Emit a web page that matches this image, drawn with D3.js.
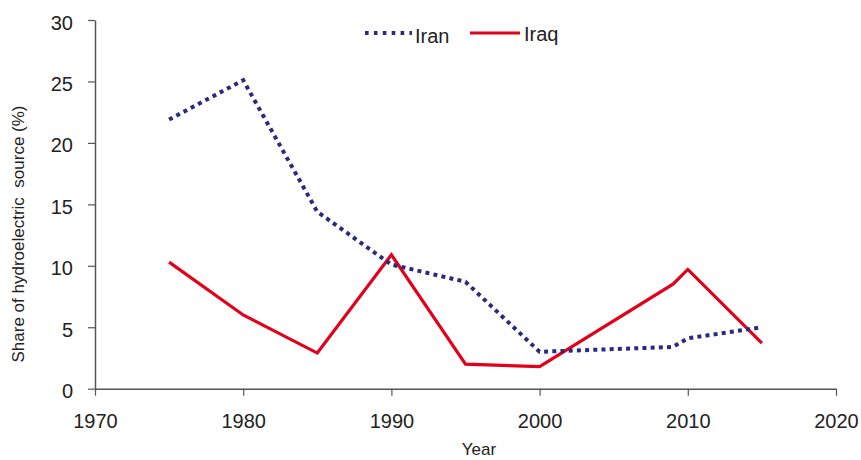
<!DOCTYPE html>
<html>
<head>
<meta charset="utf-8">
<script src="https://cdn.jsdelivr.net/npm/d3@7"></script>
<style>
  html, body { margin: 0; padding: 0; background: #fff; }
  svg { display: block; font-family: Arial, "Liberation Sans", sans-serif; }
</style>
</head>
<body>
<svg id="chart" width="861" height="460"></svg>
<script>
const years = [1975, 1980, 1985, 1990, 1995, 2000, 2009, 2010, 2015];
const iranValues = [21.9, 25.1, 14.4, 10.1, 8.7, 3.0, 3.4, 4.1, 5.0];
const iraqValues = [10.3, 6.0, 2.9, 10.9, 2.0, 1.8, 8.5, 9.7, 3.7];
const xTicks = [1970, 1980, 1990, 2000, 2010, 2020];
const yTicks = [0, 5, 10, 15, 20, 25, 30];
const seriesNames = ["Iran", "Iraq"];

(function () {
const svg = d3.select("#chart");
const mLeft = 95, mRight = 836, mTop = 20, mBottom = 388.7;

const x = d3.scaleLinear().domain([1970, 2020]).range([mLeft, mRight]);
const y = d3.scaleLinear().domain([0, 30]).range([mBottom, mTop]);

const axisColor = "#555";
const textColor = "#222";

// X axis
const gx = svg.append("g").attr("transform", `translate(0,${mBottom})`)
  .call(d3.axisBottom(x).tickValues(xTicks).tickFormat(d3.format("d")).tickSize(7).tickSizeOuter(0));
gx.select(".domain").attr("stroke", axisColor).attr("stroke-width", 1.5);
gx.selectAll(".tick line").attr("stroke", axisColor).attr("stroke-width", 1.2);
gx.selectAll(".tick text").attr("fill", textColor).attr("font-size", 20)
  .attr("font-family", "Arial, 'Liberation Sans', sans-serif").attr("y", 25).attr("dy", "0.71em");

// Y axis
const gy = svg.append("g").attr("transform", `translate(${mLeft},0)`)
  .call(d3.axisLeft(y).tickValues(yTicks).tickSize(7).tickSizeOuter(0));
gy.select(".domain").attr("stroke", axisColor).attr("stroke-width", 1.5);
gy.selectAll(".tick line").attr("stroke", axisColor).attr("stroke-width", 1.2);
gy.selectAll(".tick text").attr("fill", textColor).attr("font-size", 20)
  .attr("font-family", "Arial, 'Liberation Sans', sans-serif").attr("x", -22).attr("dy", "0.45em");

// Axis titles
svg.append("text")
  .attr("transform", `translate(24,234) rotate(-90)`)
  .attr("text-anchor", "middle")
  .attr("font-size", 17).attr("fill", textColor)
  .text("Share of hydroelectric\u00a0 source (%)");

svg.append("text")
  .attr("x", 479).attr("y", 455)
  .attr("text-anchor", "middle")
  .attr("font-size", 17).attr("fill", textColor)
  .text("Year");

const line = d3.line().x(d => x(d[0])).y(d => y(d[1]));

const iranData = years.map((yr, i) => [yr, iranValues[i]]);
const iraqData = years.map((yr, i) => [yr, iraqValues[i]]);

const iranColor = "#2b2a7e";
const iraqColor = "#e2001a";

svg.append("path").datum(iraqData)
  .attr("d", line).attr("fill", "none")
  .attr("stroke", iraqColor).attr("stroke-width", 3.2)
  .attr("stroke-linejoin", "miter");

svg.append("path").datum(iranData)
  .attr("d", line).attr("fill", "none")
  .attr("stroke", iranColor).attr("stroke-width", 4)
  .attr("stroke-dasharray", "4,4.2");

// Legend
const legend = svg.append("g");
legend.append("line").attr("x1", 365).attr("x2", 412).attr("y1", 33).attr("y2", 33)
  .attr("stroke", iranColor).attr("stroke-width", 4).attr("stroke-dasharray", "3.6,5.3");
legend.append("text").attr("x", 415).attr("y", 42.5).attr("font-size", 20).attr("fill", textColor).text(seriesNames[0]);
legend.append("line").attr("x1", 470).attr("x2", 520).attr("y1", 33).attr("y2", 33)
  .attr("stroke", iraqColor).attr("stroke-width", 3.2);
legend.append("text").attr("x", 524).attr("y", 40.5).attr("font-size", 20).attr("fill", textColor).text(seriesNames[1]);
})();
</script>
</body>
</html>
